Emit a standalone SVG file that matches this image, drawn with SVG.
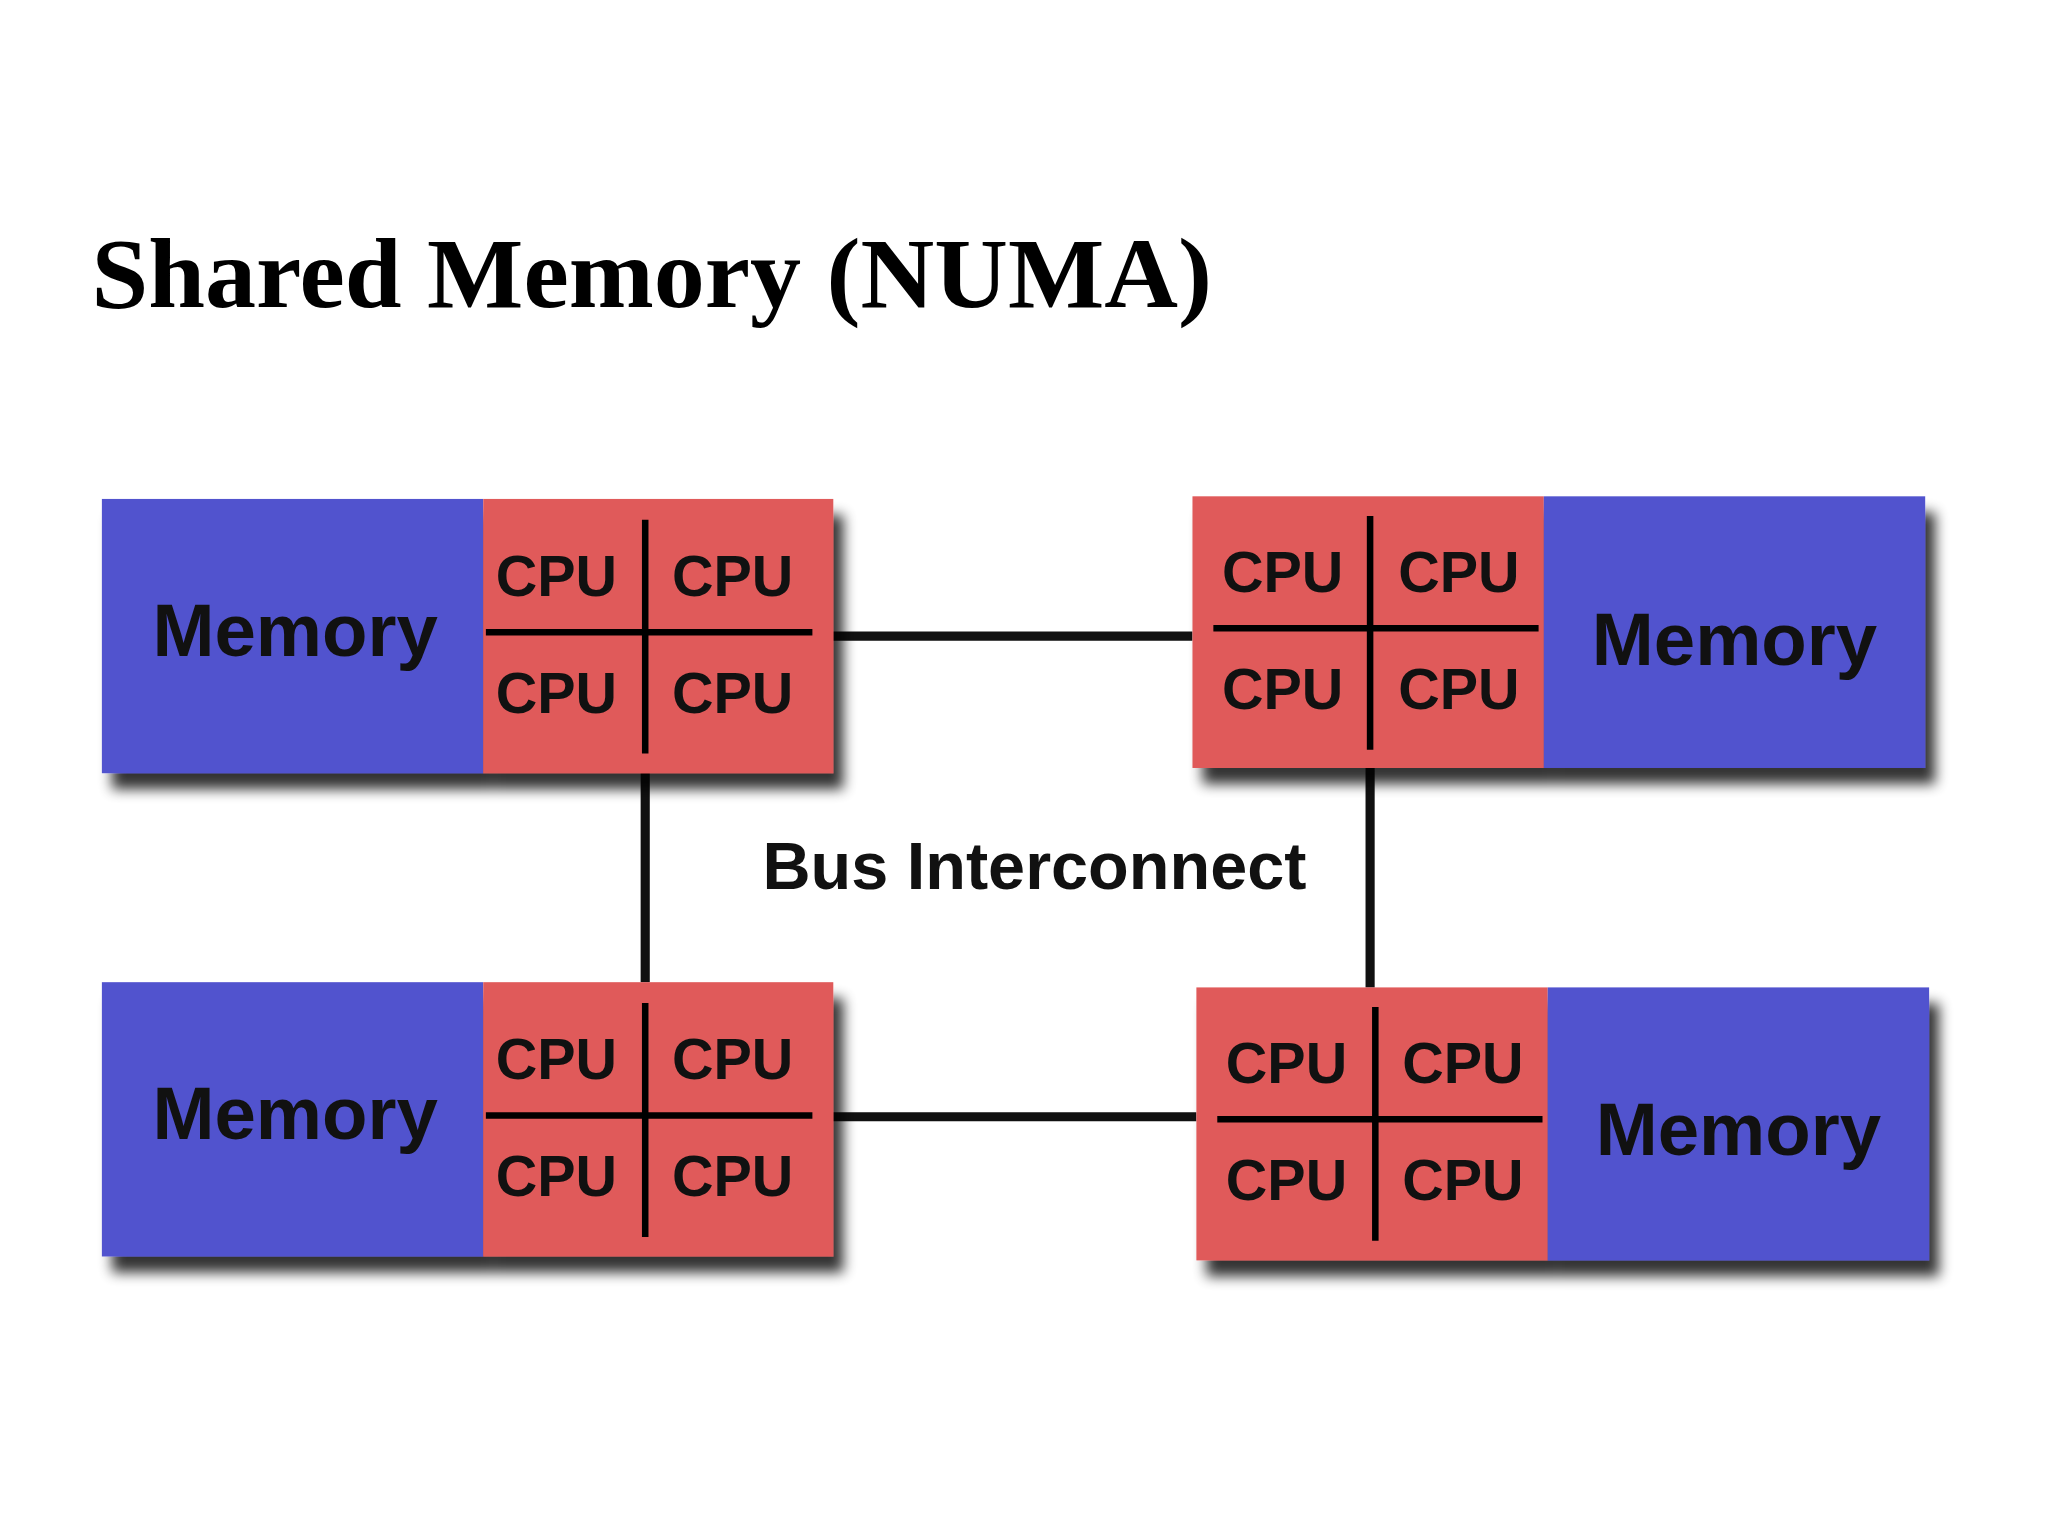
<svg xmlns="http://www.w3.org/2000/svg" width="2048" height="1536" viewBox="0 0 2048 1536">
<style>
.mem{fill:#5152CE}
.cpu{fill:#E05A5A}
.ln{stroke:#000;stroke-width:5;fill:none}
.bus{stroke:#111;stroke-width:7;fill:none}
.t{font-family:"Liberation Sans",Arial,sans-serif;font-weight:bold;fill:#111;text-anchor:middle}
.c{font-size:44px}
.m{font-size:57px}
</style>
<defs>
<filter id="sh" x="-5%" y="-5%" width="115%" height="130%">
<feGaussianBlur in="SourceAlpha" stdDeviation="5"/>
<feOffset dx="8" dy="12" result="o"/>
<feComponentTransfer><feFuncA type="linear" slope="0.8"/></feComponentTransfer>
<feMerge><feMergeNode/><feMergeNode in="SourceGraphic"/></feMerge>
</filter>
</defs>
<rect width="2048" height="1536" fill="#fff"/>
<g transform="scale(1.3061)">
<text x="70" y="235" font-family="Liberation Serif,serif" font-weight="bold" font-size="76" textLength="858" lengthAdjust="spacingAndGlyphs">Shared Memory (NUMA)</text>
<g id="connectors">
<path class="bus" d="M638 487H913M638 855H916M494 592V752M1049 588V756"/>
</g>
<text class="t" x="792" y="681" font-size="51">Bus Interconnect</text>
<g id="node1" filter="url(#sh)">
<rect class="mem" x="78" y="382" width="292" height="210"/>
<rect class="cpu" x="370" y="382" width="268" height="210"/>
</g>
<g id="node1t">
<path class="ln" d="M494 398V577M372 484H622"/>
<text class="t m" x="226" y="502">Memory</text>
<text class="t c" x="426" y="456">CPU</text><text class="t c" x="561" y="456">CPU</text>
<text class="t c" x="426" y="546">CPU</text><text class="t c" x="561" y="546">CPU</text>
</g>
<g id="node2" filter="url(#sh)">
<rect class="cpu" x="913" y="380" width="269" height="208"/>
<rect class="mem" x="1182" y="380" width="292" height="208"/>
</g>
<g id="node2t">
<path class="ln" d="M1049 395V574M929 481H1178"/>
<text class="t m" x="1328" y="509">Memory</text>
<text class="t c" x="982" y="453">CPU</text><text class="t c" x="1117" y="453">CPU</text>
<text class="t c" x="982" y="543">CPU</text><text class="t c" x="1117" y="543">CPU</text>
</g>
<g id="node3" filter="url(#sh)">
<rect class="mem" x="78" y="752" width="292" height="210"/>
<rect class="cpu" x="370" y="752" width="268" height="210"/>
</g>
<g id="node3t">
<path class="ln" d="M494 768V947M372 854H622"/>
<text class="t m" x="226" y="872">Memory</text>
<text class="t c" x="426" y="826">CPU</text><text class="t c" x="561" y="826">CPU</text>
<text class="t c" x="426" y="916">CPU</text><text class="t c" x="561" y="916">CPU</text>
</g>
<g id="node4" filter="url(#sh)">
<rect class="cpu" x="916" y="756" width="269" height="209"/>
<rect class="mem" x="1185" y="756" width="292" height="209"/>
</g>
<g id="node4t">
<path class="ln" d="M1053 771V950M932 857H1181"/>
<text class="t m" x="1331" y="884">Memory</text>
<text class="t c" x="985" y="829">CPU</text><text class="t c" x="1120" y="829">CPU</text>
<text class="t c" x="985" y="919">CPU</text><text class="t c" x="1120" y="919">CPU</text>
</g>
</g>
</svg>
